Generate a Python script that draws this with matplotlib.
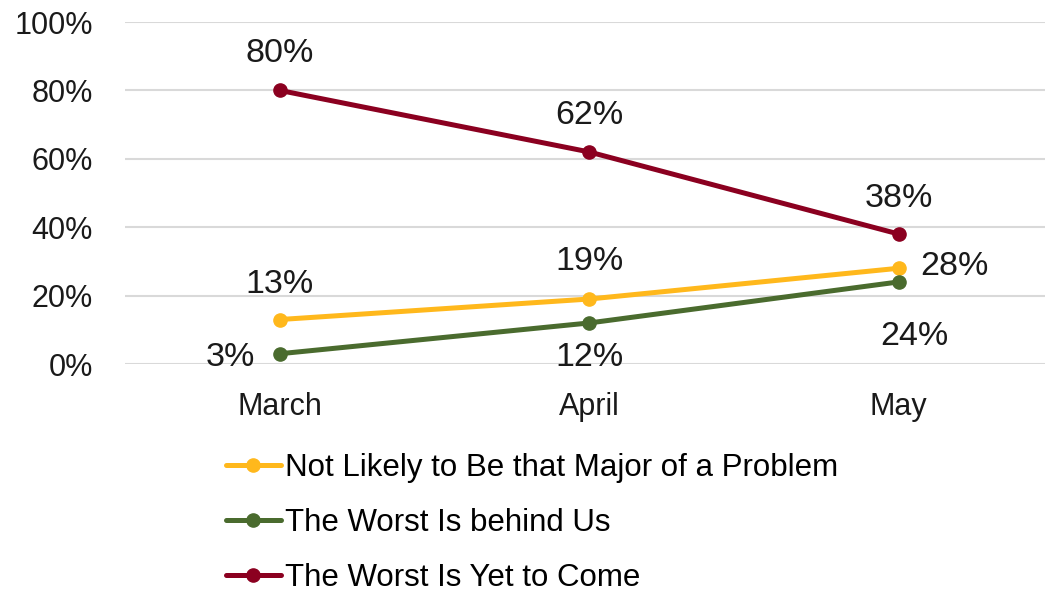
import matplotlib.pyplot as plt

plt.rcParams['font.family'] = ['Liberation Sans', 'DejaVu Sans']

months = ["March", "April", "May"]
not_major = [13, 19, 28]
worst_behind = [3, 12, 24]
worst_to_come = [80, 62, 38]
yticks = [0, 20, 40, 60, 80, 100]

W, H = 1045, 593
fig = plt.figure(figsize=(W / 100, H / 100), dpi=100)
ax = fig.add_axes([125 / W, 1 - 364 / H, (W - 125) / W, (364 - 22) / H])

x = list(range(len(months)))
series = [
    ("Not Likely to Be that Major of a Problem", not_major, "#FFB81C",
     [(0, 27), (0, 29), (21, -7)], ["center", "center", "left"]),
    ("The Worst Is behind Us", worst_behind, "#4A6B2E",
     [(-25, -12), (0, -43), (16, -63)], ["right", "center", "center"]),
    ("The Worst Is Yet to Come", worst_to_come, "#8B0020",
     [(0, 28), (0, 28), (0, 27)], ["center", "center", "center"]),
]

for name, vals, color, offs, has in series:
    ax.plot(x, vals, color=color, lw=3.6, marker="o", ms=9.5, label=name,
            solid_capstyle="round", clip_on=False, zorder=3)
    for xi, v, off, ha in zip(x, vals, offs, has):
        ax.annotate(f"{v}%", (xi, v), xytext=off, textcoords="offset pixels",
                    ha=ha, va="baseline", fontsize=24.5, color="#1a1a1a")

ax.set_xlim(-0.5, -0.5 + (W - 125) / 309.5)
ax.set_ylim(0, 100)
ax.set_xticks(x)
ax.set_xticklabels(months)
ax.set_yticks(yticks)
ax.set_yticklabels([f"{t}%" for t in yticks])
ax.grid(axis="y", color="#D9D9D9", lw=1.5)
ax.set_axisbelow(True)
for s in ax.spines.values():
    s.set_visible(False)
ax.tick_params(axis="both", length=0, labelsize=22, colors="#1a1a1a")
ax.tick_params(axis="y", pad=23)
ax.tick_params(axis="x", pad=20)

fig.legend(loc="upper left", bbox_to_anchor=(226 / W, 1 - 453 / H),
           frameon=False, fontsize=22.5, handlelength=1.75, handletextpad=0.15,
           labelspacing=0.8, borderpad=0, borderaxespad=0)

fig.savefig("out.png", dpi=100)
